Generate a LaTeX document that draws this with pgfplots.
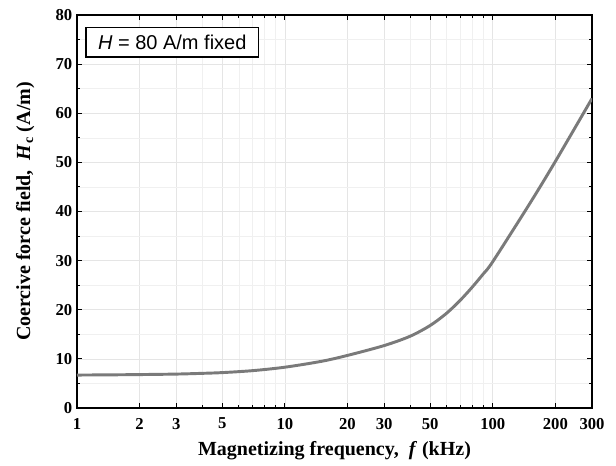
\documentclass[border=0pt]{standalone}
\usepackage{pgfplots}
\pgfplotsset{compat=1.18}
\usepackage{fontspec}
\setmainfont{Liberation Serif}
\newfontfamily\arialfont{Liberation Sans}
\begin{document}
\begin{tikzpicture}[x=0.75pt,y=0.75pt]
\begin{axis}[
  name=ax,
  xmode=log,
  width=386.25pt, height=294.75pt,
  scale only axis,
  xmin=1, xmax=300, ymin=0, ymax=80,
  xtick={1,2,3,5,10,20,30,50,100,200,300},
  xticklabels={1,2,3,5,10,20,30,50,100,200,300},
  minor xtick={4,6,7,8,9,40,60,70,80,90},
  ytick={0,10,...,80},
  minor ytick={5,15,...,75},
  tick align=inside,
  major tick length=4pt, minor tick length=2.5pt,
  tick style={black, line width=0.8pt},
  axis line style={black, line width=1.2pt},
  grid=both,
  major grid style={black!10, line width=0.5pt},
  minor grid style={black!6, line width=0.4pt},
  /pgf/number format/assume math mode=true,
  ticklabel style={font=\fontsize{12.5}{13}\selectfont\bfseries},
  xticklabel style={yshift=-4pt},
  log ticks with fixed point,
  xlabel={\textbf{Magnetizing frequency,\ \ \textit{f}\ (kHz)}},
  ylabel={\textbf{Coercive force field,\ \ \textit{H}$_{\mathbf c}$\ (A/m)}},
  label style={font=\fontsize{15}{16}\selectfont},
  xlabel style={yshift=-2pt},
  ylabel style={yshift=9pt},
]
\addplot[color=black!52, line width=2.2pt, smooth, tension=0.5] coordinates {
(1,6.7) (1.5,6.75) (2,6.8) (3,6.9) (4,7.05) (5,7.2) (7,7.6) (10,8.3) (15,9.5)
(20,10.7) (30,12.7) (40,14.6) (50,16.8) (60,19.3) (70,22.0) (80,24.7) (90,27.3) (100,29.8) (150,41.5)
(200,50.2) (300,63)
};
\node[draw=black, line width=1.2pt, fill=white, anchor=north west,
  inner xsep=9pt, inner ysep=5.5pt,
  font=\arialfont\fontsize{15}{16}\selectfont]
  at (rel axis cs:0.016,0.97) {\textit{H} = 80 A/m fixed};
\end{axis}
\pgfresetboundingbox
\path[use as bounding box] ([xshift=-57.75pt,yshift=-43.5pt]ax.south west) rectangle ([xshift=18pt,yshift=11.25pt]ax.north east);
\end{tikzpicture}
\end{document}
